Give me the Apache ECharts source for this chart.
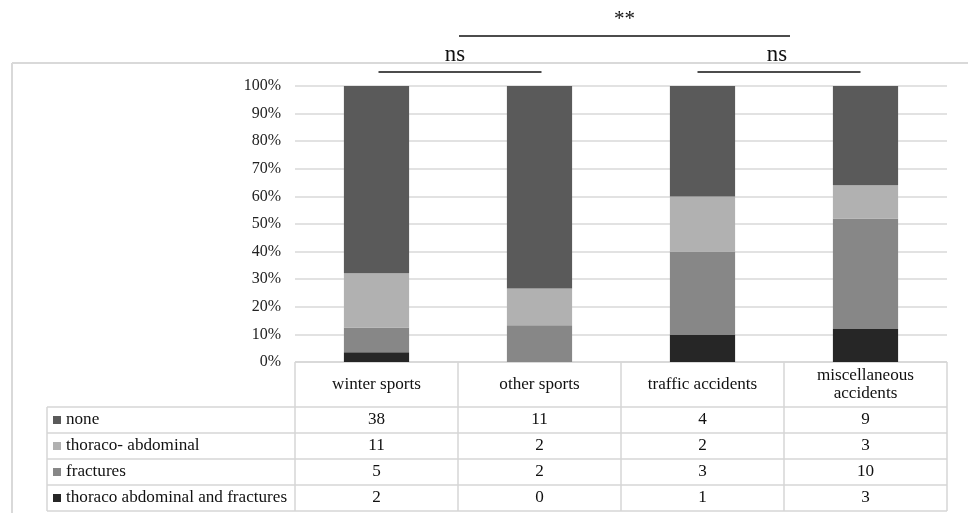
<!DOCTYPE html>
<html><head><meta charset="utf-8">
<script src="https://cdn.jsdelivr.net/npm/echarts@6/dist/echarts.min.js"></script>
<style>html,body{margin:0;padding:0;background:#fff}#c{width:968px;height:513px}</style>
</head><body><div id="c"></div>
<script>
var categories = ['winter sports', 'other sports', 'traffic accidents', 'miscellaneous\naccidents'];
var seriesNames = ['none', 'thoraco- abdominal', 'fractures', 'thoraco abdominal and fractures'];
var none = [38, 11, 4, 9];
var thoracoAbdominal = [11, 2, 2, 3];
var fractures = [5, 2, 3, 10];
var both = [2, 0, 1, 3];
var yTicks = ['0%','10%','20%','30%','40%','50%','60%','70%','80%','90%','100%'];
var sigLabels = ['ns', 'ns', '**'];

var colors = ['#5a5a5a', '#b1b1b1', '#878787', '#262626'];
var counts = [none, thoracoAbdominal, fractures, both];
var totals = categories.map(function(_, i){ return none[i] + thoracoAbdominal[i] + fractures[i] + both[i]; });
function pct(arr){ return arr.map(function(v, i){ return v / totals[i] * 100; }); }

var FONT = '"Liberation Serif", "Times New Roman", serif';
var gridL = 295, gridR = 947, gridT = 86, gridB = 362;
var chart = echarts.init(document.getElementById('c'), null, {renderer: 'canvas'});

// stacking order bottom -> top
var order = [3, 2, 1, 0];
var series = order.map(function(k){
  return {
    name: seriesNames[k], type: 'bar', stack: 'total', barWidth: '40%',
    data: pct(counts[k]), itemStyle: {color: colors[k]}, silent: true
  };
});

chart.setOption({
  animation: false,
  textStyle: {fontFamily: FONT},
  grid: {left: gridL, right: 968 - gridR, top: gridT, bottom: 513 - gridB},
  xAxis: {type: 'category', data: categories, axisLine: {show: false}, axisTick: {show: false}, axisLabel: {show: false}},
  yAxis: {type: 'value', min: 0, max: 100, interval: 10,
    axisLabel: {formatter: function(v){ return yTicks[Math.round(v/10)]; }, fontFamily: FONT, fontSize: 16, color: '#222', margin: 14},
    splitLine: {lineStyle: {color: '#d9d9d9', width: 1.5}}, axisLine: {show: false}, axisTick: {show: false}},
  series: series
});

// build table and annotations
var g = [];
var border = '#d6d6d6';
function line(x1, y1, x2, y2, c, w){ g.push({type: 'line', silent: true, shape: {x1: x1, y1: y1, x2: x2, y2: y2}, style: {stroke: c || border, lineWidth: w || 1.5}}); }
function text(x, y, s, align, size, sx){ g.push({type: 'text', silent: true, x: x, y: y, scaleX: sx || 1.07, style: {text: s, font: (size || 16) + 'px ' + FONT, fill: '#111', align: align || 'center', verticalAlign: 'middle', lineHeight: 18}}); }

// outer box
line(12, 63, 968, 63, '#d9d9d9', 2);
line(12, 63, 12, 513, '#d9d9d9', 2);

var centers = categories.map(function(c){ return chart.convertToPixel({xAxisIndex: 0}, c); });
var colW = (gridR - gridL) / categories.length;
var bounds = [];
for (var i = 0; i <= categories.length; i++) bounds.push(gridL + i * colW);
var headTop = gridB, headBot = 407, rowH = 26, legL = 47;
var tableBot = headBot + rowH * seriesNames.length;

// header
line(gridL, headTop, gridR, headTop);
bounds.forEach(function(x){ line(x, headTop, x, tableBot); });
line(legL, headBot, gridR, headBot);
line(legL, headBot, legL, tableBot);
categories.forEach(function(c, i){ text(centers[i], (headTop + headBot) / 2, c); });
seriesNames.forEach(function(n, r){
  var yc = headBot + rowH * r + rowH / 2;
  line(legL, headBot + rowH * (r + 1), gridR, headBot + rowH * (r + 1));
  g.push({type: 'rect', silent: true, shape: {x: 53, y: yc - 4, width: 8, height: 8}, style: {fill: colors[r]}});
  text(66, yc, n, 'left');
  counts[r].forEach(function(v, i){ text(centers[i], yc, String(v)); });
});

// significance annotations
var y1 = 72, y2 = 36;
line(centers[0] + 2, y1, centers[1] + 2, y1, '#111', 1.5);
line(centers[2] - 5, y1, centers[3] - 5, y1, '#111', 1.5);
text((centers[0] + centers[1]) / 2 - 3, 55, sigLabels[0], 'center', 24, 0.95);
text((centers[2] + centers[3]) / 2 - 7, 55, sigLabels[1], 'center', 24, 0.95);
var m1 = (centers[0] + centers[1]) / 2 + 1, m2 = (centers[2] + centers[3]) / 2 + 6;
line(m1, y2, m2, y2, '#111', 1.5);
text((m1 + m2) / 2, 19, sigLabels[2], 'center', 21, 1);

chart.setOption({graphic: {elements: g}});
</script></body></html>
